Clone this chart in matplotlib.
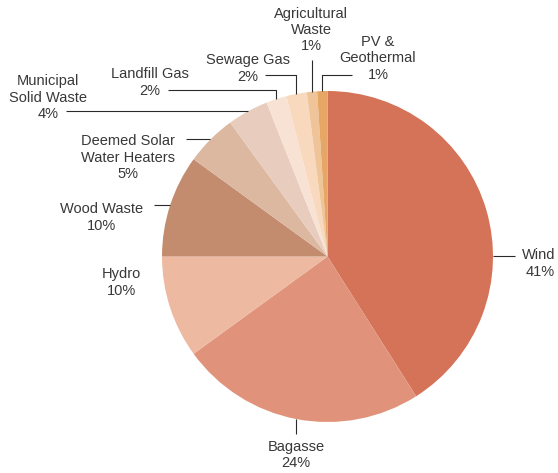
import numpy as np
import matplotlib.pyplot as plt

plt.rcParams['font.family'] = ['Liberation Sans', 'DejaVu Sans']

# Renewable energy sources, share of total (%), clockwise from the top
sources = ['Wind', 'Bagasse', 'Hydro', 'Wood Waste', 'Deemed Solar\nWater Heaters',
           'Municipal\nSolid Waste', 'Landfill Gas', 'Sewage Gas',
           'Agricultural\nWaste', 'PV &\nGeothermal']
shares = [41, 24, 10, 10, 5, 4, 2, 2, 1, 1]
colors = ['#D47358', '#E0937A', '#EDB9A1', '#C38C6E', '#DDB8A0',
          '#E8CCBE', '#F8E2D4', '#F8D9BD', '#EFC498', '#E6A766']

W, H = 558, 473
fig = plt.figure(figsize=(W / 100, H / 100), dpi=100)
ax = fig.add_axes([0, 0, 1, 1])

cx, cy, r = 327.5, H - 256.5, 165.5
wedges, _ = ax.pie(shares, colors=colors, startangle=90, counterclock=False,
                   center=(cx, cy), radius=r, wedgeprops=dict(linewidth=0))
ax.set_xlim(0, W)
ax.set_ylim(0, H)
ax.set_aspect('equal')
ax.axis('off')

# label anchor (x, y from top), alignment, leader elbow points (None = straight)
layout = {
    'Wind':                        ((555, 263.5), 'right', 'right'),
    'Bagasse':                     ((296, 455), 'center', 'down'),
    'Hydro':                       ((121, 282.5), 'center', None),
    'Wood Waste':                  ((102, 217.5), 'center', ('h', 154)),
    'Deemed Solar\nWater Heaters': ((128, 157.5), 'center', ('h', 186)),
    'Municipal\nSolid Waste':      ((48, 97.5), 'center', ('h', 66)),
    'Landfill Gas':                ((149.5, 82.5), 'center', ('elbow', 168, 90)),
    'Sewage Gas':                  ((248, 68.5), 'center', ('elbow', 265, 75)),
    'Agricultural\nWaste':         ((311, 30), 'center', ('v', 60)),
    'PV &\nGeothermal':            ((378, 58.5), 'center', ('elbow', 352, 75)),
}

line_kw = dict(color='#2a2a2a', linewidth=0.8, solid_capstyle='butt')
for w, name, val in zip(wedges, sources, shares):
    (tx, ty), ha, leader = layout[name]
    ax.text(tx, H - ty, f'{name}\n{val}%', ha=ha, va='center', multialignment=ha,
            fontsize=10.5, color='#383838', linespacing=1.2)

    ang = np.deg2rad((w.theta1 + w.theta2) / 2)
    ex, ey = cx + r * np.cos(ang), cy + r * np.sin(ang)
    if leader is None:
        continue
    if leader == 'right':
        ax.plot([cx + r, 515], [cy, cy], **line_kw)
    elif leader == 'down':
        ax.plot([ex, ex], [ey, H - 434], **line_kw)
    elif leader[0] == 'h':
        ax.plot([leader[1], ex], [ey, ey], **line_kw)
    elif leader[0] == 'v':
        ax.plot([ex, ex], [H - leader[1], ey], **line_kw)
    elif leader[0] == 'elbow':
        x0, y0 = leader[1], H - leader[2]
        ax.plot([x0, ex, ex], [y0, y0, ey], **line_kw)

fig.savefig('out.png', dpi=100)
